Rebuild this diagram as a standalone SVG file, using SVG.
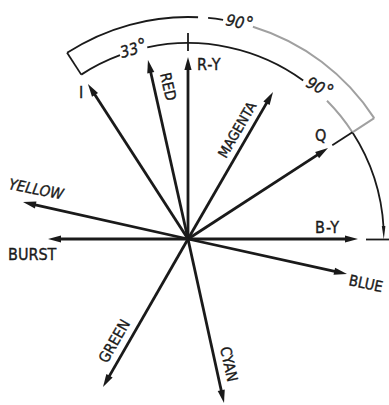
<svg xmlns="http://www.w3.org/2000/svg" width="389" height="405" viewBox="0 0 389 405">
<style>
.v{stroke:#1a1a1a;stroke-width:2.8;fill:none;marker-end:url(#ah)}
.arc{stroke:#1a1a1a;stroke-width:1.8;fill:none}
.gray{stroke:#a0a0a0;stroke-width:2;fill:none}
text{font-family:"Liberation Sans Narrow","DejaVu Sans Condensed","Liberation Sans",sans-serif;font-size:16px;fill:#1a1a1a;stroke:#1a1a1a;stroke-width:0.35}
.deg{font-style:italic;font-size:16px}
.sup{font-size:19px;font-style:normal}
</style>
<defs>
<marker id="ah" markerUnits="userSpaceOnUse" markerWidth="20" markerHeight="12" viewBox="-6 -6 20 12" refX="0" refY="0" orient="auto">
<path d="M-5,-3.6 L8,0 L-5,3.6 Z" fill="#1a1a1a"/>
</marker>
</defs>
<rect width="389" height="405" fill="#fff"/>
<g id="arcs">
<path class="arc" d="M81.26,74.62 A196,196 0 0 1 120.0,55.2"/>
<path class="arc" d="M147.25,47.29 A196,196 0 0 1 303.2,80.4"/>
<path class="gray" d="M327,100.8 A196,196 0 0 1 352.4,132.3"/>
<path class="arc" d="M352.4,132.3 A196,196 0 0 1 383.6,228"/>
<path d="M381.8,226 L385.4,226 L383.8,239.5 Z" fill="#1a1a1a"/>
<path class="arc" d="M188,33 L188,51"/>
<path class="arc" d="M366,239.5 L389,239.5"/>
<path class="arc" d="M67.09,52.81 A222,222 0 0 1 198.07,17.23"/>
<path class="arc" d="M208.1,17.9 A222,222 0 0 1 223.1,19.8"/>
<path class="gray" d="M252.9,26.7 A222,222 0 0 1 374.2,118.1"/>
<path class="arc" d="M67.09,52.81 L81.26,74.62"/>
<path class="gray" d="M374.2,118.1 L352.4,132.3"/>
<path class="arc" d="M332.3,145.3 L352.4,132.3"/>
</g>
<g id="connectors">
<path class="v" d="M188,239 L92.3,90.7"/>
<path class="v" d="M188,239 L149.7,67.8"/>
<path class="v" d="M188,239 L188,65"/>
<path class="v" d="M188,239 L269.0,98.9"/>
<path class="v" d="M188,239 L321.3,152.4"/>
<path class="v" d="M188,239 L350,239"/>
<path class="v" d="M188,239 L339.2,272.3"/>
<path class="v" d="M188,239 L222.3,395.2"/>
<path class="v" d="M188,239 L107.0,380.1"/>
<path class="v" d="M188,239 L30.8,203.8"/>
<path class="v" d="M188,239 L56,239"/>
</g>
<g id="node-I"><text x="79" y="98">I</text></g>
<g id="node-RED"><text transform="translate(160,74) rotate(77)" style="font-size:15px">RED</text></g>
<g id="node-RY"><text x="197" y="70" letter-spacing="1">R-Y</text></g>
<g id="node-MAGENTA"><text transform="translate(226,159) rotate(-60)" style="font-size:14px">MAGENTA</text></g>
<g id="node-Q"><text x="315" y="141">Q</text></g>
<g id="node-BY"><text x="315" y="233" letter-spacing="1">B-Y</text></g>
<g id="node-BLUE"><text transform="translate(348,285) rotate(12)" style="font-size:15px">BLUE</text></g>
<g id="node-CYAN"><text transform="translate(220,348) rotate(77.6)" style="font-size:15px">CYAN</text></g>
<g id="node-GREEN"><text transform="translate(107,364) rotate(-60)" style="font-size:15px">GREEN</text></g>
<g id="node-YELLOW"><text transform="translate(8,189) rotate(11)" style="font-style:italic;font-size:15px">YELLOW</text></g>
<g id="node-BURST"><text x="8" y="260">BURST</text></g>
<g id="angle-33"><text class="deg" transform="translate(122,58) rotate(-16)">33<tspan class="sup" dx="0.5">°</tspan></text></g>
<g id="angle-90-outer"><text class="deg" transform="translate(225,25) rotate(12)">90<tspan class="sup" dx="0.5">°</tspan></text></g>
<g id="angle-90-inner"><text class="deg" transform="translate(305,86) rotate(28)">90<tspan class="sup" dx="0.5">°</tspan></text></g>
</svg>
